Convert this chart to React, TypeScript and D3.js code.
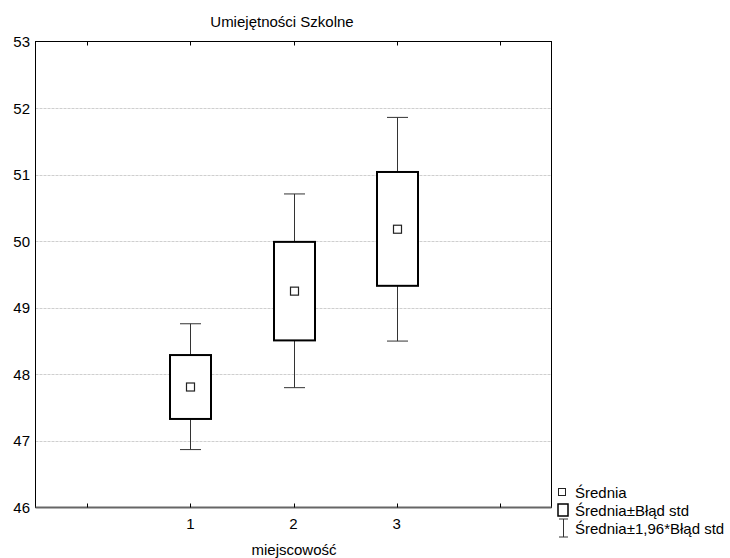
import { useEffect, useRef } from 'react'
import * as d3 from 'd3'

const GROUPS      = ['1', '2', '3']
const MEANS       = [47.81, 49.25, 50.18]
const SE_LOW      = [47.33, 48.51, 49.33]
const SE_HIGH     = [48.29, 49.99, 51.04]
const CI_LOW      = [46.87, 47.80, 48.50]
const CI_HIGH     = [48.76, 50.71, 51.86]
const Y_TICKS     = [46, 47, 48, 49, 50, 51, 52, 53]
const X_TICK_POS  = [0, 1, 2, 3, 4]
const LEGEND      = ['Średnia', 'Średnia±Błąd std', 'Średnia±1,96*Błąd std']

const FONT = '"Liberation Sans", Arial, sans-serif'

export default function App() {
  const svgRef = useRef<SVGSVGElement>(null)

  useEffect(() => {
    if (!svgRef.current) return
    const W = 730, H = 558
    const left = 35.5, right = 551.5, top = 41.5, bottom = 507.5

    const svg = d3.select(svgRef.current)
    svg.selectAll('*').remove()
    svg.attr('width', W).attr('height', H)

    const x = d3.scaleLinear().domain([-0.5, 4.5]).range([left, right])
    const y = d3.scaleLinear().domain([46, 53]).range([bottom, top])

    // grid
    svg.append('g')
      .selectAll('line')
      .data(Y_TICKS.filter(t => t > 46 && t < 53))
      .enter().append('line')
      .attr('x1', left).attr('x2', right)
      .attr('y1', d => Math.round(y(d)) + 0.5).attr('y2', d => Math.round(y(d)) + 0.5)
      .attr('stroke', '#cfcfcf').attr('stroke-width', 1)
      .attr('stroke-dasharray', '3,1')

    // frame
    svg.append('rect')
      .attr('x', left).attr('y', top)
      .attr('width', right - left).attr('height', bottom - top)
      .attr('fill', 'none').attr('stroke', '#000').attr('stroke-width', 1)
    svg.append('line')
      .attr('x1', left).attr('x2', right)
      .attr('y1', bottom).attr('y2', bottom)
      .attr('stroke', '#666').attr('stroke-width', 2)

    // x ticks (inside, top and bottom)
    X_TICK_POS.forEach(t => {
      const xp = Math.round(x(t)) + 0.5
      svg.append('line').attr('x1', xp).attr('x2', xp)
        .attr('y1', top).attr('y2', top + 4).attr('stroke', '#000')
      svg.append('line').attr('x1', xp).attr('x2', xp)
        .attr('y1', bottom).attr('y2', bottom - 4).attr('stroke', '#000')
    })

    // x labels
    svg.append('g')
      .selectAll('text')
      .data(GROUPS)
      .enter().append('text')
      .attr('x', (d, i) => x(i + 1)).attr('y', 529)
      .attr('text-anchor', 'middle')
      .attr('font-family', FONT).attr('font-size', 15)
      .text(d => d)

    // y labels
    svg.append('g')
      .selectAll('text')
      .data(Y_TICKS)
      .enter().append('text')
      .attr('x', 30).attr('y', d => y(d) + 5.5)
      .attr('text-anchor', 'end')
      .attr('font-family', FONT).attr('font-size', 15)
      .text(d => d)

    // whiskers, boxes, means
    const capW = 21, boxW = 41, mk = 8
    GROUPS.forEach((g, i) => {
      const cx = Math.round(x(i + 1)) + 0.5
      const gw = svg.append('g').attr('stroke', '#333').attr('stroke-width', 1)
      gw.append('line').attr('x1', cx).attr('x2', cx)
        .attr('y1', y(CI_HIGH[i])).attr('y2', y(CI_LOW[i]))
      gw.append('line').attr('x1', cx - capW / 2).attr('x2', cx + capW / 2)
        .attr('y1', y(CI_HIGH[i])).attr('y2', y(CI_HIGH[i]))
      gw.append('line').attr('x1', cx - capW / 2).attr('x2', cx + capW / 2)
        .attr('y1', y(CI_LOW[i])).attr('y2', y(CI_LOW[i]))

      svg.append('rect')
        .attr('x', cx - boxW / 2).attr('y', y(SE_HIGH[i]))
        .attr('width', boxW).attr('height', y(SE_LOW[i]) - y(SE_HIGH[i]))
        .attr('fill', '#fff').attr('stroke', '#000').attr('stroke-width', 2)

      svg.append('rect')
        .attr('x', cx - mk / 2).attr('y', y(MEANS[i]) - mk / 2)
        .attr('width', mk).attr('height', mk)
        .attr('fill', '#fff').attr('stroke', '#222').attr('stroke-width', 1.2)
    })

    // title and axis label
    svg.append('text')
      .attr('x', 282).attr('y', 27)
      .attr('text-anchor', 'middle')
      .attr('font-family', FONT).attr('font-size', 15)
      .text('Umiejętności Szkolne')
    svg.append('text')
      .attr('x', 294).attr('y', 555)
      .attr('text-anchor', 'middle')
      .attr('font-family', FONT).attr('font-size', 15)
      .text('miejscowość')

    // legend
    const lg = svg.append('g')
    const ly = [492, 510, 528]
    lg.append('rect').attr('x', 558.5).attr('y', ly[0] - 3.5).attr('width', 7).attr('height', 7)
      .attr('fill', '#fff').attr('stroke', '#222')
    lg.append('rect').attr('x', 558).attr('y', ly[1] - 6).attr('width', 10).attr('height', 12)
      .attr('fill', '#fff').attr('stroke', '#000').attr('stroke-width', 1.5)
    const ig = lg.append('g').attr('stroke', '#333')
    ig.append('line').attr('x1', 563.5).attr('x2', 563.5).attr('y1', ly[2] - 9).attr('y2', ly[2] + 9)
    ig.append('line').attr('x1', 559).attr('x2', 568).attr('y1', ly[2] - 9).attr('y2', ly[2] - 9)
    ig.append('line').attr('x1', 559).attr('x2', 568).attr('y1', ly[2] + 9).attr('y2', ly[2] + 9)
    lg.selectAll('text')
      .data(LEGEND)
      .enter().append('text')
      .attr('x', 575).attr('y', (d, i) => ly[i] + 5.5)
      .attr('font-family', FONT).attr('font-size', 15)
      .text(d => d)
  }, [])

  return (
    <svg ref={svgRef} style={{ position: 'absolute', left: 0, top: 0, display: 'block', background: '#fff' }} />
  )
}
